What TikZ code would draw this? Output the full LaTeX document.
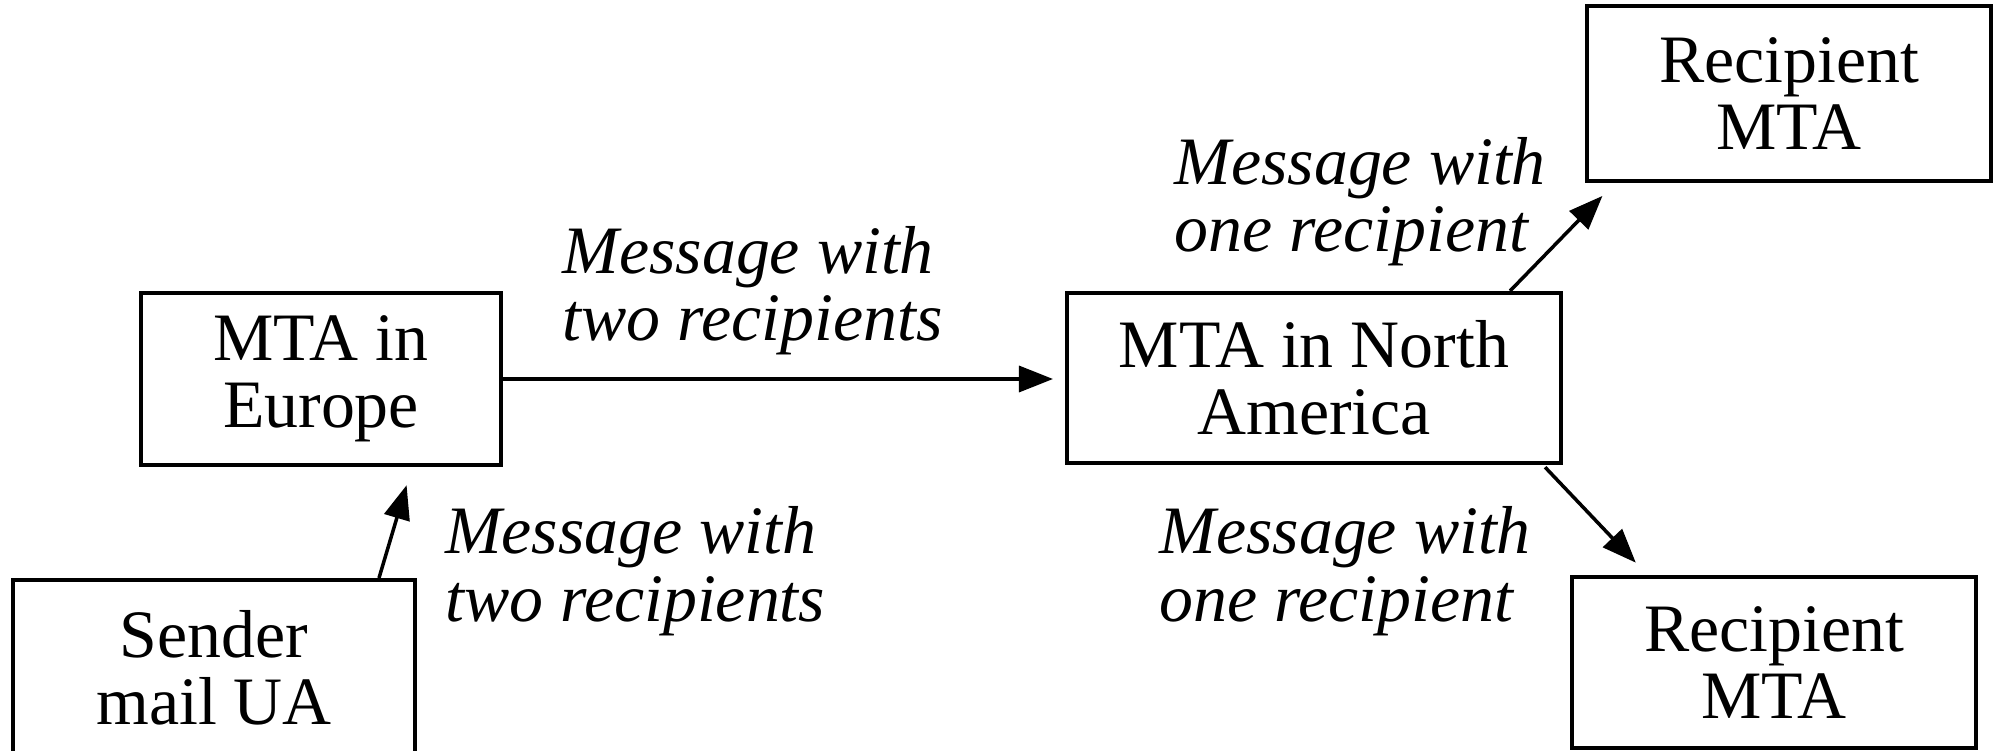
\documentclass[tikz,border=0pt]{standalone}
\usepackage{fontspec}
\setmainfont{Liberation Serif}
\usetikzlibrary{arrows.meta}
\tikzset{
  mtabox/.style={draw,line width=1.15pt,inner sep=0pt,align=center,font=\fontsize{19.3}{19.2}\selectfont},
  msglabel/.style={inner sep=0pt,anchor=west,align=left,font=\fontsize{19.3}{19.2}\selectfont\itshape},
  msgarrow/.style={-{Triangle[length=0.34cm,width=0.26cm]},line width=1pt}
}
\begin{document}
\begin{tikzpicture}
\useasboundingbox (0,0) rectangle (19.97,7.5);
\clip (0,0) rectangle (19.97,7.5);


%draw the agents as boxes
\node[mtabox,minimum width=4.02cm,minimum height=1.76cm] (sender) at (2.14,0.82) {Sender\\mail UA};
\node[mtabox,minimum width=3.6cm,minimum height=1.72cm] (europe) at (3.21,3.71) {MTA in\\Europe};
\node[mtabox,minimum width=4.94cm,minimum height=1.70cm] (namerica) at (13.14,3.72) {MTA in North\\America};
\node[mtabox,minimum width=4.04cm,minimum height=1.75cm] (rcpttop) at (17.89,6.565) {Recipient\\MTA};
\node[mtabox,minimum width=4.04cm,minimum height=1.71cm] (rcptbot) at (17.74,0.875) {Recipient\\MTA};


%labels on the hops
\node[msglabel] (twotop) at (5.62,4.595) {Message with\\two recipients};
\node[msglabel] (twobot) at (4.445,1.79) {Message with\\two recipients};
\node[msglabel] (onetop) at (11.74,5.485) {Message with\\one recipient};
\node[msglabel] (onebot) at (11.59,1.79) {Message with\\one recipient};


%draw the hops of the message
\draw[msgarrow,shorten >=0.19cm] ([xshift=1.65cm]sender.north) -- ([xshift=0.91cm]europe.south);
\draw[msgarrow,shorten >=0.12cm] (europe.east) -- (europe.east -| namerica.west);
\draw[msgarrow,shorten >=0.18cm] ([xshift=1.96cm]namerica.north) -- ([xshift=0.3cm]rcpttop.south west);
\draw[msgarrow,shorten <=0.03cm,shorten >=0.17cm] ([xshift=2.29cm]namerica.south) -- ([xshift=0.775cm]rcptbot.north west);


\end{tikzpicture}
\end{document}
